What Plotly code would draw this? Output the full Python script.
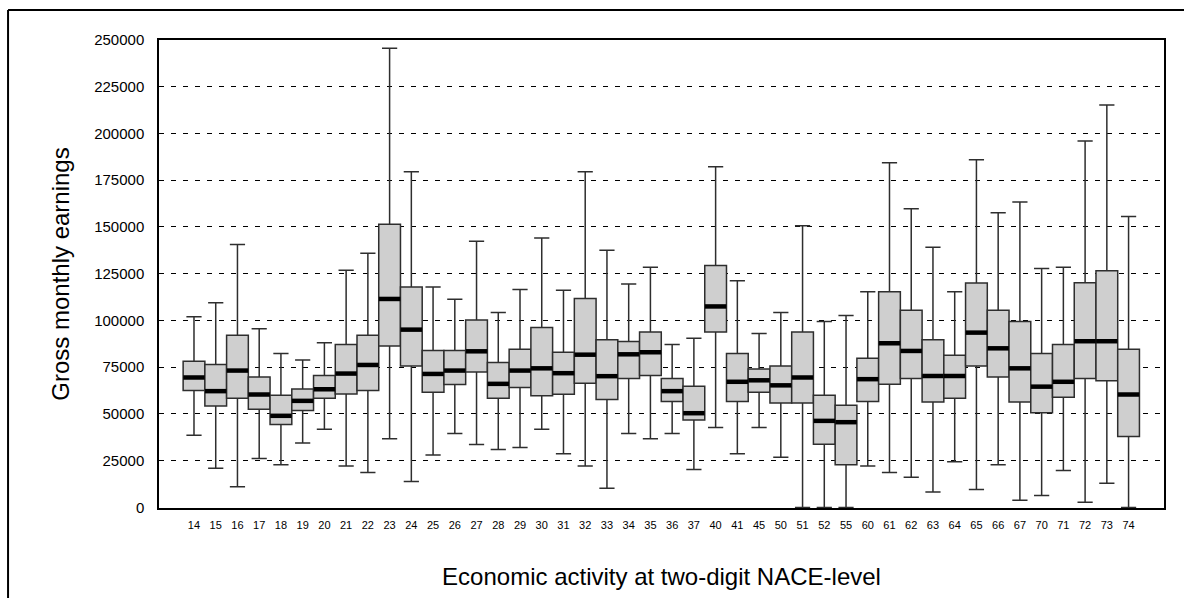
import plotly.graph_objects as go

categories = ["14", "15", "16", "17", "18", "19", "20", "21", "22", "23", "24",
              "25", "26", "27", "28", "29", "30", "31", "32", "33", "34", "35",
              "36", "37", "40", "41", "45", "50", "51", "52", "55", "60", "61",
              "62", "63", "64", "65", "66", "67", "70", "71", "72", "73", "74"]

upper = [102000, 109500, 140600, 95600, 82300, 78900, 88100, 126800, 135900, 245600, 179500,
         117900, 111300, 142300, 104300, 116600, 144100, 116100, 179500, 137600, 119500, 128400,
         87200, 90500, 182200, 121300, 93000, 104300, 150600, 99500, 102700, 115400, 184300,
         159700, 139200, 115400, 185900, 157600, 163300, 127800, 128400, 196000, 215300, 155600]

q3 = [78200, 76400, 92100, 69800, 60000, 63400, 70500, 87100, 92100, 151500, 117900,
      83900, 83900, 100300, 77500, 84600, 96300, 83000, 111800, 89700, 88700, 93800,
      68900, 64800, 129400, 82300, 74100, 75700, 93800, 60000, 54700, 79800, 115400,
      105400, 89700, 81400, 120000, 105400, 99500, 82300, 87200, 120200, 126600, 84600]

median = [69500, 62200, 73200, 60400, 49000, 57000, 63200, 71600, 76200, 111500, 95100,
          71400, 73200, 83500, 66100, 73200, 74400, 71800, 81700, 70200, 81900, 83000,
          62200, 50400, 107500, 67200, 68000, 65300, 69500, 46300, 45600, 68600, 87800,
          83700, 70300, 70300, 93500, 85100, 74400, 64600, 67200, 88900, 88900, 60400]

q1 = [62500, 54200, 58400, 52500, 44300, 51800, 58400, 60700, 62500, 86400, 75700,
      61600, 65700, 72500, 58400, 64100, 59800, 60500, 66400, 57700, 68900, 70500,
      56600, 46700, 93800, 56600, 61600, 55900, 55900, 33800, 22800, 56600, 65900,
      68900, 56400, 58400, 75700, 69800, 56400, 50600, 58900, 68900, 67700, 37900]

lower = [38600, 21000, 11000, 26200, 22800, 34400, 41800, 22100, 18700, 36700, 13900,
         28000, 39500, 33600, 31000, 32000, 41800, 28700, 22100, 10300, 39500, 36700,
         39500, 20300, 42700, 28700, 42700, 26900, 0, 0, 0, 22100, 18700,
         16200, 8200, 24400, 9600, 22800, 3900, 6400, 19800, 2800, 13000, 0]

y_ticks = [0, 25000, 50000, 75000, 100000, 125000, 150000, 175000, 200000, 225000, 250000]

FONT = "Liberation Sans, Arial, sans-serif"

fig = go.Figure()

fig.add_trace(go.Box(
    x=categories,
    q1=q1, median=median, q3=q3,
    lowerfence=lower, upperfence=upper,
    boxpoints=False,
    width=1.0,
    whiskerwidth=0.7,
    fillcolor="#cfcfcf",
    line=dict(color="#2e2e2e", width=1.5),
    showlegend=False,
    hoverinfo="skip",
))

fig.add_trace(go.Scatter(
    x=categories, y=median,
    mode="markers",
    marker=dict(symbol="line-ew", size=15.3,
                line=dict(color="black", width=4.5)),
    showlegend=False,
    hoverinfo="skip",
))

fig.update_layout(
    width=1184, height=598,
    autosize=False,
    margin=dict(l=159, r=20, t=40, b=90),
    paper_bgcolor="white",
    plot_bgcolor="white",
    font=dict(family=FONT, color="black"),
    shapes=[
        dict(type="line", xref="paper", yref="paper",
             x0=-0.1502, x1=1.05, y0=1.0641, y1=1.0641,
             line=dict(color="black", width=2)),
        dict(type="line", xref="paper", yref="paper",
             x0=-0.1502, x1=-0.1502, y0=1.0641, y1=-0.3,
             line=dict(color="black", width=2)),
    ],
)

fig.update_xaxes(
    type="category",
    categoryorder="array", categoryarray=categories,
    range=[-1.61, 44.63],
    showgrid=False,
    showline=True, linecolor="black", linewidth=1.5, mirror=True,
    ticks="",
    tickfont=dict(size=11, family=FONT),
    ticklabelstandoff=6,
    title=dict(text="Economic activity at two-digit NACE-level",
               font=dict(size=24, family=FONT), standoff=38),
    zeroline=False,
)

fig.update_yaxes(
    range=[-300, 250000],
    tickvals=y_ticks,
    ticktext=[str(v) for v in y_ticks],
    showgrid=True, gridcolor="black", gridwidth=1, griddash="5px,7px",
    showline=True, linecolor="black", linewidth=1.5, mirror=True,
    ticks="",
    tickfont=dict(size=15, family=FONT),
    ticklabelstandoff=10,
    title=dict(text="Gross monthly earnings",
               font=dict(size=24, family=FONT), standoff=18),
    zeroline=False,
)

fig.write_html("out.html")
